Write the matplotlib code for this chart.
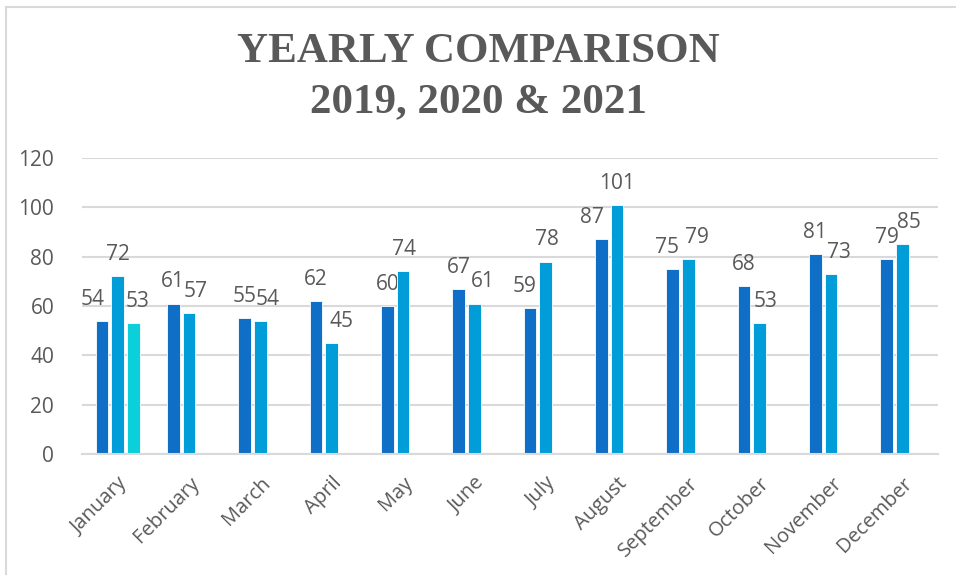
import matplotlib
matplotlib.use("Agg")
import matplotlib.pyplot as plt
from matplotlib.lines import Line2D
import numpy as np

months = ["January", "February", "March", "April", "May", "June", "July",
          "August", "September", "October", "November", "December"]
y2019 = [54, 61, 55, 62, 60, 67, 59, 87, 75, 68, 81, 79]
y2020 = [72, 57, 54, 45, 74, 61, 78, 101, 79, 53, 73, 85]
y2021 = [53, None, None, None, None, None, None, None, None, None, None, None]
title_lines = ["YEARLY COMPARISON", "2019, 2020 & 2021"]
yticks = [0, 20, 40, 60, 80, 100, 120]

# label horizontal nudges (points), layout only
dx2019 = [-7, 0, 0, 0, 0, 0, -4, -7, -4, 0, 0, 0]
dx2020 = [0, 5, 5, 7, 1, 6, 1, 0, 6, 4, 6, 5]
dx2021 = [3] + [0] * 11

colors = ["#0F6FC6", "#009DD9", "#0BD0D9"]
gray = "#595959"
grid = "#D9D9D9"

W, H = 956, 577
fig = plt.figure(figsize=(W / 100, H / 100), dpi=100)
ax = fig.add_axes([82 / W, 1 - 454 / H, (938 - 82) / W, (454 - 158) / H])

x = np.arange(len(months))
slot = 0.22
bw = 0.175
series = [(y2019, colors[0], -slot, dx2019), (y2020, colors[1], 0.0, dx2020),
          (y2021, colors[2], slot, dx2021)]
for vals, col, off, dxs in series:
    xs = [xi + off for xi, v in zip(x, vals) if v is not None]
    vs = [v for v in vals if v is not None]
    dd = [d for d, v in zip(dxs, vals) if v is not None]
    ax.bar(xs, vs, width=bw, color=col, edgecolor="white", linewidth=0.6, zorder=3)
    for xi, v, d in zip(xs, vs, dd):
        ax.annotate(str(v), (xi, v), xytext=(d, 8), textcoords="offset points",
                    ha="center", va="bottom", fontsize=15, color=gray,
                    family="Open Sans")

ax.set_xlim(-0.5, len(months) - 0.5)
ax.set_ylim(0, 120)
ax.set_yticks(yticks)
ax.set_yticklabels([str(t) for t in yticks], fontsize=15, color=gray, family="Open Sans")
ax.set_xticks(x)
ax.set_xticklabels(months, rotation=45, ha="right", rotation_mode="anchor",
                   fontsize=14.5, color=gray, family="Open Sans")
ax.tick_params(axis="both", length=0)
ax.tick_params(axis="y", pad=20)
ax.tick_params(axis="x", pad=14)
ax.grid(axis="y", color=grid, linewidth=1.5, zorder=0)
for s in ["top", "right", "left"]:
    ax.spines[s].set_visible(False)
ax.spines["bottom"].set_color(grid)
ax.spines["bottom"].set_linewidth(1.5)
ax.spines["bottom"].set_zorder(4)

fig.text(0.5, 1 - 52 / H, title_lines[0], ha="center", va="center",
         fontsize=31, fontweight="bold", color=gray, family="Liberation Serif")
fig.text(0.5, 1 - 102 / H, title_lines[1], ha="center", va="center",
         fontsize=31, fontweight="bold", color=gray, family="Liberation Serif")

fig.add_artist(Line2D([6 / W, 1], [1 - 6.5 / H, 1 - 6.5 / H], color="#D9D9D9",
                      linewidth=1.5, transform=fig.transFigure))
fig.add_artist(Line2D([6 / W, 6 / W], [1 - 6.5 / H, 0.005], color="#D9D9D9",
                      linewidth=1.5, transform=fig.transFigure))

fig.savefig("out.png", dpi=100, facecolor="white")
